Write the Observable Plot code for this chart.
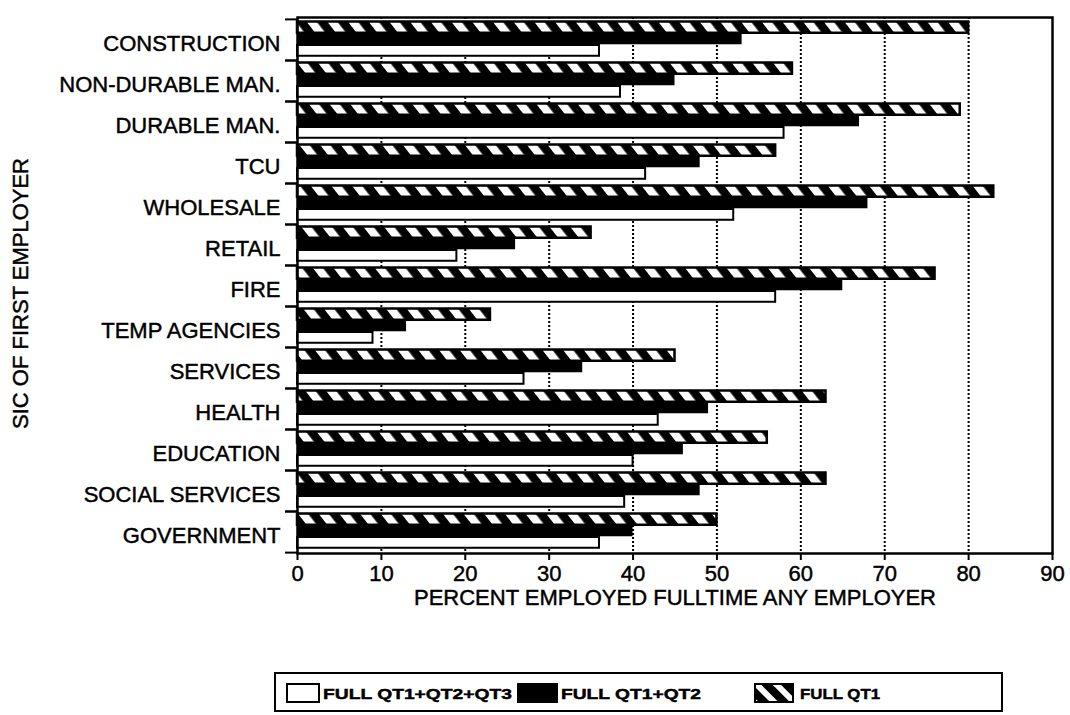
<!DOCTYPE html>
<html>
<head>
<meta charset="utf-8">
<script src="https://cdn.jsdelivr.net/npm/d3@7"></script>
<script src="https://cdn.jsdelivr.net/npm/@observablehq/plot@0.6"></script>
<style>
  body { margin: 0; background: #fff; }
  #chart { width: 1070px; }
  svg { display: block; }
  #chart svg text { stroke: black; stroke-width: 0.45px; }
</style>
</head>
<body>
<div id="chart"></div>
<script>
// ---- data ----
const categories = [
  "CONSTRUCTION", "NON-DURABLE MAN.", "DURABLE MAN.", "TCU", "WHOLESALE",
  "RETAIL", "FIRE", "TEMP AGENCIES", "SERVICES", "HEALTH", "EDUCATION",
  "SOCIAL SERVICES", "GOVERNMENT"
];
const fullQT1      = [80, 59, 79, 57, 83, 35, 76, 23, 45, 63, 56, 63, 50];
const fullQT1QT2   = [53, 45, 67, 48, 68, 26, 65, 13, 34, 49, 46, 48, 40];
const fullQT1QT2QT3 = [36, 38.5, 58, 41.5, 52, 19, 57, 9, 27, 43, 40, 39, 36];
const xTicks = [0, 10, 20, 30, 40, 50, 60, 70, 80, 90];
const gridTicks = [10, 20, 30, 40, 50, 60, 70, 80];
const seriesNames = ["FULL QT1+QT2+QT3", "FULL QT1+QT2", "FULL QT1"];
const xTitle = "PERCENT EMPLOYED FULLTIME ANY EMPLOYER";
const yTitle = "SIC OF FIRST EMPLOYER";

const rows = categories.map((c, i) => ({
  category: c, q1: fullQT1[i], q12: fullQT1QT2[i], q123: fullQT1QT2QT3[i]
}));

// ---- layout ----
const W = 1070, H = 625, MT = 17, MB = 72, ML = 297, MR = 18;
const bh = (H - MT - MB) / categories.length;
const FONT = "'Liberation Sans', Arial, Helvetica, sans-serif";

const plot = Plot.plot({
  width: W, height: H,
  marginTop: MT, marginBottom: MB, marginLeft: ML, marginRight: MR,
  style: { fontFamily: FONT, fontSize: "22px", color: "black", background: "white", overflow: "visible" },
  x: { domain: [0, 90], label: null },
  y: { domain: categories, padding: 0, label: null },
  marks: [
    Plot.gridX(gridTicks, { stroke: "black", strokeOpacity: 1, strokeWidth: 2, strokeDasharray: "2,2" }),
    Plot.barX(rows, { x: "q123", y: "category", fill: "white", stroke: "black", strokeWidth: 2,
      insetTop: 26, insetBottom: bh - 37 }),
    Plot.barX(rows, { x: "q12", y: "category", fill: "black",
      insetTop: 14, insetBottom: bh - 25.5 }),
    Plot.barX(rows, { x: "q1", y: "category", fill: "url(#hatch)", stroke: "black", strokeWidth: 2.5,
      insetTop: 2.5, insetBottom: bh - 14 }),
    Plot.frame({ stroke: "black", strokeWidth: 2.5 }),
    Plot.axisX(xTicks, { tickSize: 7, tickPadding: 5, fontSize: 22, strokeWidth: 2, label: null }),
    Plot.axisY({ tickSize: 0, tickPadding: 17, fontSize: 22, dy: 4, label: null }),
    Plot.axisY({ tickSize: 12, tickFormat: () => "", dy: -bh / 2, strokeWidth: 2, label: null }),
    Plot.axisY({ tickSize: 12, tickFormat: () => "", dy: bh / 2, strokeWidth: 2, label: null }),
    Plot.text([xTitle], { text: d => d, frameAnchor: "bottom", dy: 51, fontSize: 22, textAnchor: "middle" }),
    Plot.text([yTitle], { text: d => d, frameAnchor: "left", textAnchor: "middle", dx: -277, dy: 8, rotate: -90, fontSize: 22 })
  ]
});

// hatch pattern for FULL QT1 bars
const defs = d3.select(plot).insert("defs", ":first-child");
const pat = defs.append("pattern")
  .attr("id", "hatch").attr("patternUnits", "userSpaceOnUse")
  .attr("width", 16.3).attr("height", 10)
  .attr("patternTransform", "rotate(-38)");
pat.append("rect").attr("width", 16.3).attr("height", 10).attr("fill", "black");
pat.append("rect").attr("width", 8).attr("height", 10).attr("fill", "white");

document.getElementById("chart").appendChild(plot);

// ---- legend (below the plot) ----
const LH = 90;
const leg = d3.select("#chart").append("svg")
  .attr("width", W).attr("height", LH)
  .style("font-family", FONT);
const ldefs = leg.append("defs");
const lpat = ldefs.append("pattern")
  .attr("id", "hatchLegend").attr("patternUnits", "userSpaceOnUse")
  .attr("width", 14).attr("height", 10)
  .attr("patternTransform", "rotate(-45)");
lpat.append("rect").attr("width", 14).attr("height", 10).attr("fill", "black");
lpat.append("rect").attr("width", 6).attr("height", 10).attr("fill", "white");

leg.append("rect").attr("x", 275).attr("y", 48).attr("width", 727).attr("height", 38)
  .attr("fill", "none").attr("stroke", "black").attr("stroke-width", 2);

const items = [
  { name: seriesNames[0], sx: 287, sw: 32, fill: "white", stroke: "black", tx: 323, tl: 189 },
  { name: seriesNames[1], sx: 518, sw: 39, fill: "black", stroke: "black", tx: 561, tl: 140 },
  { name: seriesNames[2], sx: 755, sw: 38, fill: "url(#hatchLegend)", stroke: "black", tx: 800, tl: 80 }
];
items.forEach(it => {
  leg.append("rect").attr("x", it.sx).attr("y", 59).attr("width", it.sw).attr("height", 18)
    .attr("fill", it.fill).attr("stroke", it.stroke).attr("stroke-width", 2);
  leg.append("text").attr("x", it.tx).attr("y", 74)
    .attr("font-size", 15).attr("font-weight", "bold")
    .attr("textLength", it.tl).attr("lengthAdjust", "spacingAndGlyphs")
    .text(it.name);
});
</script>
</body>
</html>
